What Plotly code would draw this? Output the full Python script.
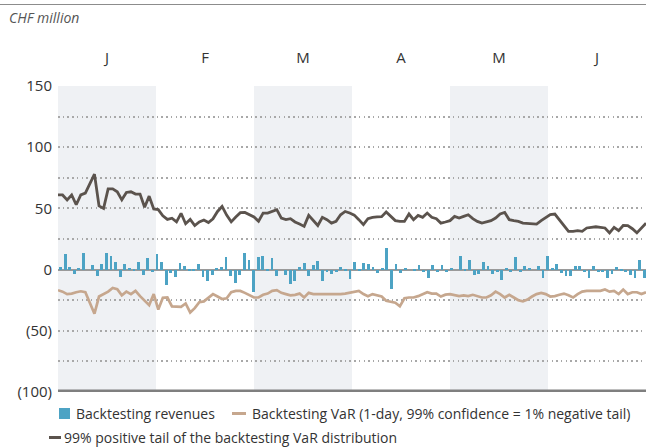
import numpy as np
import plotly.graph_objects as go

# ---------------- data (CHF million) ----------------
months = ["J", "F", "M", "A", "M", "J"]

revenues = [
    2.2, 13, 2.4, -3.8, 1, 13.9, 0, 4, -4.9, 4.9, 13.9, 11.4, 6.5, -6.2, 4.9, 1.6, -1.4, 6.5, -4.6, 9.8,
    -2.2, 13, 6.5, -12.8, -3, -6.2, 5.7, 3.3, -0.5, -1.4, 4.9, -6.2, -9.5, -4.6, 0.8, 2.4, 10.6, -5.4, -11, -4.6,
    13.9, 8.2, -18.5, 10.6, 11.4, -1.4, 9.8, -5.4, 0, -4.6, -12, -9.5, 2.4, 5.7, -5.4, 4, 7.3, -9.5, -2.2,
    -3.8, -2.2, 2.4, -1.4, -7.9, 6.5, -1.4, 5.7, 4.9, 2.4, -3, 0.5, 17.9, -16, 4.9, -3, 0.8, 0, -1.4, 4,
    -2.2, -7, 4, -2.2, 4, -2.2, 1.6, 0, 11.4, -1.4, 8.2, -4.6, -3.8, 6.5, 3.3, -3.8, -2.2, -8.7, 0.8, -2.2,
    10.6, -2.2, 3.3, 0.5, 0, 3.3, -7, 11.4, 1, 4.9, -3, -5.4, -5.4, 3.3, 3.3, -2.2, -7, 3.3, -2.2, -2.2,
    -7, -3.8, 2.4, -1.4, -2.2, -4.6, -7, 8.2, -7,
]

var_negative_tail = [
    -16.8, -18, -20, -19.6, -18.5, -17.7, -18.5, -27, -36, -22,
    -20, -18, -15, -16, -21, -18, -20, -17.4, -21.7, -25.5,
    -29, -20, -32.6, -23, -22.8, -30, -30, -30.4, -27.7, -35,
    -31.5, -26.6, -26, -23, -20, -22, -24, -23.4, -18.5, -17.4,
    -17.4, -19, -20.6, -22.8, -22.8, -20.6, -19.6, -17.4, -16.8, -19,
    -20, -21, -20.6, -19.6, -22.8, -19, -20, -20, -20.6,
    -20.6, -20.3, -20.2, -20, -19.6, -19, -18.5, -17.4, -20, -21.7,
    -20, -21, -22, -25.5, -26, -27, -30, -23.4, -22.8, -22.8,
    -21.7, -20, -18.5, -19.6, -19.6, -22, -20.5, -20, -21, -21.7,
    -21, -21.7, -20.6, -21.7, -22.8, -22.8, -21, -18, -20, -22.8,
    -20.6, -22.8, -25, -26, -24.5, -22, -20, -19, -20, -22,
    -21.7, -20.6, -19.6, -21, -22.8, -20, -18, -17.4, -17.4, -16.8,
    -17.4, -16.3, -18, -17.4, -20, -16.3, -20, -18.5, -18.5, -20,
    -18.5,
]

positive_tail = [
    61, 61, 57, 61, 53, 61, 62.5, 70.6, 78, 52, 50, 66, 66, 63.6, 57, 63, 63.6, 61.7, 61.7, 51, 60, 49.5, 49,
    44, 41, 42, 39, 46, 37.5, 41, 36, 39, 40.5, 38.5, 41.5, 47.5, 51.6, 44.5, 39, 43, 46.5, 46.7, 45,
    43, 39.5, 46.2, 46.2, 47.5, 49, 42, 40.8, 41.6, 38.9, 37.2, 35.3, 44.3, 40, 36, 42.7, 40.8, 38, 39.5, 44.8, 47.5, 46.2, 44.5,
    40.8, 36.7, 41.6, 42.7, 43, 43.2, 47, 43.5, 40, 39.4, 39.4, 45.4, 40.8, 44.3, 42.7, 46.2, 42.7, 41.6, 38, 38.9, 40, 43.5,
    42.1, 43.5, 44.8, 41.6, 39.4, 38, 38.9, 40, 42.1, 45.4, 46.7, 40.8, 40, 39.4, 38, 37.8, 37.8, 37.2, 40, 42.7, 45,
    45.4, 40.8, 35.3, 31.3, 31.3, 31.8, 31.3, 34, 34.5, 35, 34.5, 34, 30, 34.5, 31.8, 36, 35.9, 33.4, 30, 34, 38,
]

y_tickvals = [-100, -50, 0, 50, 100, 150]
y_ticktext = ["(100)", "(50)", "0", "50", "100", "150"]
y_minor_vals = [-75, -25, 25, 75, 125]

legend_labels = [
    "Backtesting revenues",
    "Backtesting VaR (1-day, 99% confidence = 1% negative tail)",
    "99% positive tail of the backtesting VaR distribution",
]

# ---------------- styling ----------------
BAR_C = "#4da3c4"
VAR_C = "#c6a78e"
POS_C = "#5b534d"
SHADE_C = "#eff1f4"
GRID_C = "#a8a8a8"
TEXT_C = "#333333"
FONT = "Open Sans"

W, H = 646, 448
ML, MR, MT, MB = 58, 0, 86, 56
PW, PH = W - ML - MR, H - MT - MB


def px_x(px):
    return (px - ML) / PW


def px_y(py):
    return (H - MB - py) / PH


n_days = len(positive_tail)
span = n_days - 1
x_line = np.arange(n_days)
x_bar = np.linspace(0.55, span - 0.4, len(revenues))
month_w = span / len(months)
month_centers = [month_w * (k + 0.5) for k in range(len(months))]

fig = go.Figure()
fig.add_trace(go.Bar(x=x_bar, y=revenues, name=legend_labels[0], marker_color=BAR_C,
                     marker_line_width=0, width=0.62, showlegend=False))
fig.add_trace(go.Scatter(x=x_line, y=var_negative_tail, name=legend_labels[1], mode="lines",
                         line=dict(color=VAR_C, width=2.7), showlegend=False))
fig.add_trace(go.Scatter(x=x_line, y=positive_tail, name=legend_labels[2], mode="lines",
                         line=dict(color=POS_C, width=2.8), showlegend=False))

shapes = []
for k in range(0, len(months), 2):
    shapes.append(dict(type="rect", xref="x", yref="paper", x0=month_w * k, x1=month_w * (k + 1),
                       y0=0, y1=1, fillcolor=SHADE_C, line_width=0, layer="below"))
# thick baseline at -100
shapes.append(dict(type="line", xref="paper", yref="y", x0=0, x1=1, y0=-100, y1=-100,
                   line=dict(color="#7f7f7f", width=5)))
# top rule
shapes.append(dict(type="line", xref="paper", yref="paper", x0=px_x(0), x1=px_x(646), y0=px_y(4.5), y1=px_y(4.5),
                   line=dict(color="#8c8c8c", width=1.2)))
# legend symbols
shapes.append(dict(type="rect", xref="paper", yref="paper", x0=px_x(59), x1=px_x(70),
                   y0=px_y(419), y1=px_y(408), fillcolor=BAR_C, line_width=0))
shapes.append(dict(type="line", xref="paper", yref="paper", x0=px_x(232), x1=px_x(246),
                   y0=px_y(413.5), y1=px_y(413.5), line=dict(color=VAR_C, width=3)))
shapes.append(dict(type="line", xref="paper", yref="paper", x0=px_x(49), x1=px_x(61),
                   y0=px_y(437.5), y1=px_y(437.5), line=dict(color=POS_C, width=3)))

annotations = [
    dict(text="<i>CHF million</i>", xref="paper", yref="paper", x=px_x(7), y=px_y(18),
         xanchor="left", yanchor="middle", showarrow=False, font=dict(size=14, color="#555555", family=FONT)),
    dict(text=legend_labels[0], xref="paper", yref="paper", x=px_x(74), y=px_y(413),
         xanchor="left", yanchor="middle", showarrow=False, font=dict(size=14, color=TEXT_C, family=FONT)),
    dict(text=legend_labels[1], xref="paper", yref="paper", x=px_x(250), y=px_y(413),
         xanchor="left", yanchor="middle", showarrow=False, font=dict(size=14, color=TEXT_C, family=FONT)),
    dict(text=legend_labels[2], xref="paper", yref="paper", x=px_x(62), y=px_y(437),
         xanchor="left", yanchor="middle", showarrow=False, font=dict(size=14, color=TEXT_C, family=FONT)),
]

fig.update_layout(
    width=W, height=H,
    margin=dict(l=ML, r=MR, t=MT, b=MB, pad=0),
    paper_bgcolor="white", plot_bgcolor="white",
    font=dict(family=FONT, color=TEXT_C, size=14),
    bargap=0, showlegend=False,
    shapes=shapes, annotations=annotations,
    xaxis=dict(range=[0, span], side="top", tickmode="array", tickvals=month_centers, ticktext=months,
               showgrid=False, zeroline=False, showline=False, ticks="", ticklabelstandoff=19,
               tickfont=dict(size=15, color=TEXT_C, family=FONT), fixedrange=True),
    yaxis=dict(range=[-100, 150], tickmode="array", tickvals=y_tickvals, ticktext=y_ticktext,
               showgrid=True, gridcolor=GRID_C, gridwidth=1.5, griddash="1.5px,3.2px",
               zeroline=True, zerolinecolor="#9a9a9a", zerolinewidth=2,
               showline=False, ticks="", ticklabelstandoff=5,
               tickfont=dict(size=15, color=TEXT_C, family=FONT),
               minor=dict(tickmode="array", tickvals=y_minor_vals, showgrid=True, gridcolor=GRID_C,
                          gridwidth=1.5, griddash="1.5px,3.2px", ticks=""),
               fixedrange=True),
)

fig.write_html("out.html", config={"displayModeBar": False},
               post_script="document.body.style.margin='0';")
